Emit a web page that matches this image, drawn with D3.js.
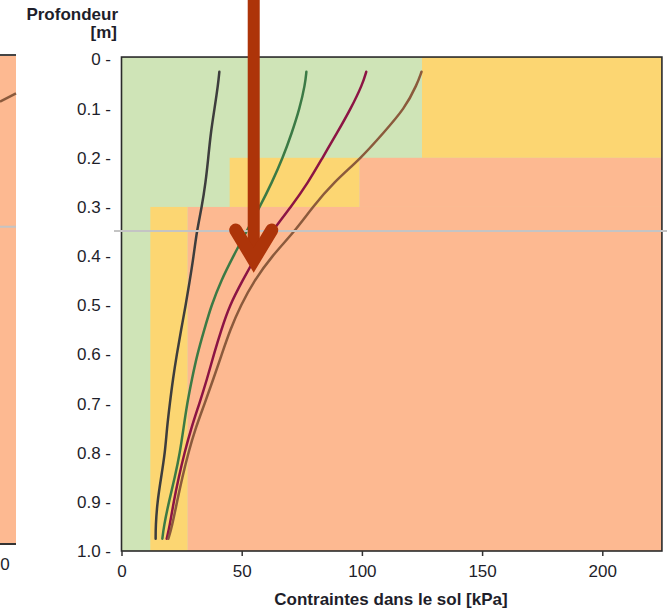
<!DOCTYPE html>
<html>
<head>
<meta charset="utf-8">
<script src="https://cdn.jsdelivr.net/npm/d3@7"></script>
<style>
  body { margin: 0; background: #fff; }
  svg { display: block; font-family: "Liberation Sans", Arial, sans-serif; }
  .tick-label { font-size: 17px; fill: #1e1e2a; }
  .axis-title { font-size: 17px; font-weight: bold; fill: #1e1e2a; }
</style>
</head>
<body>
<div class="vis"></div>
<script>
// depth grid [m] shared by the four curves
var depths = [0.025, 0.05, 0.1, 0.15, 0.2, 0.25, 0.3, 0.35, 0.4, 0.45, 0.5,
              0.55, 0.6, 0.65, 0.7, 0.75, 0.8, 0.85, 0.9, 0.95, 0.975];

// soil stress [kPa] per curve
var stressBlack = [40.7, 40.2, 38.7, 37.1, 36.1, 35.0, 33.4, 31.3, 30.0, 28.4, 26.7,
                   24.8, 23.0, 21.4, 20.1, 18.9, 18.1, 16.5, 14.9, 14.2, 14.2];
var stressGreen = [76.9, 76.4, 74.1, 70.8, 67.1, 62.6, 57.5, 52.0, 46.5, 41.4, 37.4,
                   34.4, 31.5, 29.3, 27.3, 25.8, 24.3, 22.2, 19.7, 17.6, 17.0];
var stressRed   = [101.8, 100.3, 95.4, 89.6, 83.6, 77.7, 70.5, 62.5, 56.0, 50.3, 45.0,
                   41.5, 38.4, 35.6, 32.4, 29.0, 26.2, 23.8, 21.7, 20.0, 18.8];
var stressBrown = [124.8, 123.0, 117.8, 108.8, 99.8, 88.2, 79.5, 72.0, 62.5, 55.2, 49.6,
                   45.2, 41.7, 38.2, 34.6, 30.8, 27.8, 25.3, 23.1, 21.0, 19.5];

var curveColours = ["#3d3d3d", "#3b7a45", "#8c1444", "#8b5a3c"];

// risk zones: [stress from, stress to, depth from, depth to]
var greenZones  = [[0, 225, -0.005, 1.0]];
var yellowZones = [[125, 225, -0.005, 0.2], [45, 99, 0.2, 0.3], [12, 27.5, 0.3, 1.0]];
var orangeZones = [[99, 225, 0.2, 0.3], [27.5, 225, 0.3, 1.0]];
var zoneColours = { green: "#cfe4b7", yellow: "#fcd672", orange: "#fdb991" };

var xTicks = [0, 50, 100, 150, 200];
var yTicks = [0, 0.1, 0.2, 0.3, 0.4, 0.5, 0.6, 0.7, 0.8, 0.9, 1.0];

(function () {
    const svgWidth = 667;
    const svgHeight = 610;

    const svg = d3.select('.vis')
        .append('svg')
            .attr('width', svgWidth)
            .attr('height', svgHeight);

    var xScale = d3.scaleLinear()
        .domain([0, 200])
        .range([121.5, 602.3]);

    var yScale = d3.scaleLinear()
        .domain([0, 1])
        .range([59.5, 551]);

    var xMax = 224.8, dTop = -0.005;

    // left neighbour panel (cut off by the screenshot)
    var leftX = d3.scaleLinear().domain([218, 225]).range([0, 16]);
    var leftY = d3.scaleLinear().domain([0, 1]).range([58, 544]);
    svg.append('rect')
        .attr('x', leftX(210)).attr('y', leftY(-0.006))
        .attr('width', leftX(225) - leftX(210))
        .attr('height', leftY(1) - leftY(-0.006))
        .attr('fill', zoneColours.orange);
    svg.append('line')
        .attr('x1', leftX(210)).attr('x2', leftX(225))
        .attr('y1', leftY(-0.006)).attr('y2', leftY(-0.006))
        .attr('stroke', '#444').attr('stroke-width', 2);
    svg.append('line')
        .attr('x1', leftX(210)).attr('x2', leftX(225))
        .attr('y1', leftY(1)).attr('y2', leftY(1))
        .attr('stroke', '#333').attr('stroke-width', 2);
    svg.append('line')
        .attr('x1', leftX(218)).attr('x2', leftX(225))
        .attr('y1', leftY(0.09)).attr('y2', leftY(0.073))
        .attr('stroke', curveColours[3]).attr('stroke-width', 2.5);
    svg.append('line')
        .attr('x1', leftX(210)).attr('x2', leftX(225))
        .attr('y1', leftY(0.347)).attr('y2', leftY(0.347))
        .attr('stroke', '#c4c4c4').attr('stroke-width', 2);
    svg.append('text')
        .attr('class', 'tick-label')
        .attr('x', 5).attr('y', 570)
        .attr('text-anchor', 'middle')
        .text('0');

    const graph = svg.append('g');

    function drawZones(zones, colour) {
        graph.append('g').selectAll('rect')
            .data(zones)
            .enter().append('rect')
                .attr('x', function(d) { return xScale(d[0]); })
                .attr('y', function(d) { return yScale(d[2]); })
                .attr('width', function(d) { return xScale(Math.min(d[1], xMax)) - xScale(d[0]); })
                .attr('height', function(d) { return yScale(d[3]) - yScale(d[2]); })
                .attr('fill', colour);
    }
    drawZones(greenZones, zoneColours.green);
    drawZones(yellowZones, zoneColours.yellow);
    drawZones(orangeZones, zoneColours.orange);

    // grey reference line across the screenshot
    svg.append('line')
        .attr('x1', 114).attr('x2', svgWidth)
        .attr('y1', yScale(0.349)).attr('y2', yScale(0.349))
        .attr('stroke', '#c4c4c4').attr('stroke-width', 2);

    // plot frame
    graph.append('rect')
        .attr('x', xScale(0))
        .attr('y', yScale(dTop))
        .attr('width', xScale(xMax) - xScale(0))
        .attr('height', yScale(1) - yScale(dTop))
        .attr('fill', 'none')
        .attr('stroke', '#2a2a2a')
        .attr('stroke-width', 1.6);

    // stress curves
    var series = [stressBlack, stressGreen, stressRed, stressBrown];
    var line = d3.line()
        .x(function(d) { return xScale(d[0]); })
        .y(function(d) { return yScale(d[1]); })
        .curve(d3.curveBasis);

    graph.append('g').selectAll('path')
        .data(series)
        .enter().append('path')
            .attr('d', function(s) { return line(s.map(function(v, i) { return [v, depths[i]]; })); })
            .attr('fill', 'none')
            .attr('stroke', function(s, i) { return curveColours[i]; })
            .attr('stroke-width', 2.5)
            .attr('stroke-linecap', 'round');

    // x axis
    var xAxis = d3.axisBottom(xScale)
        .tickValues(xTicks)
        .tickSize(5)
        .tickSizeOuter(0)
        .tickFormat(d3.format('d'));
    var callxAxis = graph.append('g')
        .attr('transform', `translate(0, ${yScale(1)})`)
        .call(xAxis);
    callxAxis.select('.domain').remove();
    callxAxis.attr('font-size', null).attr('font-family', null);
    callxAxis.selectAll('line').attr('stroke', '#333').attr('stroke-width', 1.5);
    callxAxis.selectAll('text')
        .attr('class', 'tick-label')
        .attr('y', 14)
        .attr('dy', '0.71em');

    svg.append('text')
        .attr('class', 'axis-title')
        .attr('x', 391)
        .attr('y', 605)
        .attr('text-anchor', 'middle')
        .text('Contraintes dans le sol [kPa]');

    // y axis labels ("0.1 -" style)
    graph.append('g').selectAll('text')
        .data(yTicks)
        .enter().append('text')
            .attr('class', 'tick-label')
            .attr('x', 111)
            .attr('y', function(d) { return yScale(d); })
            .attr('dy', '0.35em')
            .attr('text-anchor', 'end')
            .text(function(d) { return d3.format('.1f')(d).replace(/^0\.0$/, '0') + ' -'; });

    svg.append('text')
        .attr('class', 'axis-title')
        .attr('x', 118).attr('y', 20)
        .attr('text-anchor', 'end')
        .text('Profondeur');
    svg.append('text')
        .attr('class', 'axis-title')
        .attr('x', 117).attr('y', 38)
        .attr('text-anchor', 'end')
        .text('[m]');

    // red arrow annotation
    var arrowColour = '#ad3409';
    svg.append('line')
        .attr('x1', xScale(55)).attr('x2', xScale(55))
        .attr('y1', 0).attr('y2', yScale(0.4))
        .attr('stroke', arrowColour).attr('stroke-width', 12);
    svg.append('path')
        .attr('d', 'M' + xScale(47.5) + ',' + yScale(0.347) +
                   'L' + xScale(55) + ',' + yScale(0.408) +
                   'L' + xScale(62.5) + ',' + yScale(0.347))
        .attr('fill', 'none')
        .attr('stroke', arrowColour)
        .attr('stroke-width', 13)
        .attr('stroke-linecap', 'round')
        .attr('stroke-linejoin', 'miter');
} ());
</script>
</body>
</html>
